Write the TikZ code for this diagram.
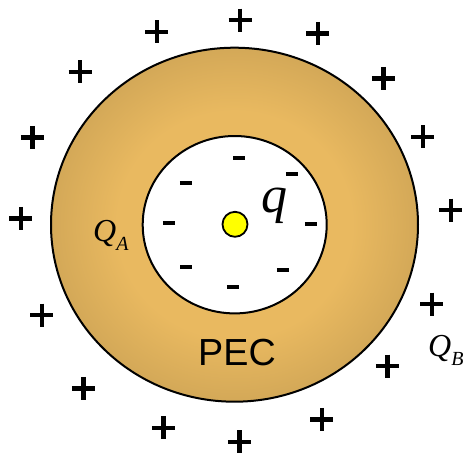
\documentclass[tikz,border=0pt]{standalone}
\usepackage{fontspec}
\setmainfont{Liberation Serif}
\newfontfamily\arialfont{Liberation Sans}
\definecolor{pecLight}{HTML}{E9B960}
\definecolor{pecDark}{HTML}{C59D52}
\definecolor{chargeYellow}{HTML}{FFFF00}
\pgfdeclareradialshading{pecshade}{\pgfpoint{0bp}{0bp}}{color(0bp)=(pecLight); color(16bp)=(pecLight); color(31bp)=(pecDark); color(50bp)=(pecDark)}
\tikzset{
  plussign/.style={line width=4.4pt},
  minussign/.style={line width=4pt},
  rim/.style={draw=black, line width=2pt},
}
\begin{document}
\begin{tikzpicture}[x=1pt,y=-1pt]
\useasboundingbox (0,0) rectangle (467,455);
% PEC shell
\shade[shading=pecshade, rim] (234.5,224.7) ellipse [x radius=183.5pt, y radius=177pt];
\fill[white, rim] (234.7,224.7) ellipse [x radius=92pt, y radius=88.7pt];
% point charge
\draw[fill=chargeYellow, line width=1.8pt] (235,224.3) circle [radius=12.5pt];
% negative induced charges
\foreach \x/\y in {239/158.3, 291.7/174, 185.7/183.3, 168.7/223.3, 310.7/224.3, 186/267, 282.7/270.3, 232.7/286.7}
  \draw[minussign] (\x-5.8,\y) -- (\x+5.8,\y);
% positive outer charges
\foreach \x/\y in {240/20, 156.7/31.7, 317.7/33.3, 80/71.7, 383.3/78.3, 32.3/137.3, 422.7/136.7, 20.7/218.3, 450.7/210, 41.7/315, 431.7/304, 83.3/388.3, 387.3/366, 163.3/427.7, 321.7/419.3, 239.3/441.7}
  \draw[plussign] (\x-11.5,\y) -- (\x+11.5,\y) (\x,\y-11.5) -- (\x,\y+11.5);
% labels
\node[inner sep=0pt] (q) at (274,205.5) {\fontsize{52}{52}\selectfont\itshape q};
\node[inner sep=0pt, anchor=base west] (QA) at (93,241) {\fontsize{32}{32}\selectfont\itshape Q\raisebox{-9pt}{\fontsize{20}{20}\selectfont A}};
\node[inner sep=0pt, anchor=base west] (QB) at (428,356) {\fontsize{32}{32}\selectfont\itshape Q\raisebox{-9pt}{\fontsize{20}{20}\selectfont B}};
\node[inner sep=0pt, anchor=base] (pec) at (237,365) {\arialfont\fontsize{37.7}{37.7}\selectfont PEC};
\end{tikzpicture}
\end{document}
